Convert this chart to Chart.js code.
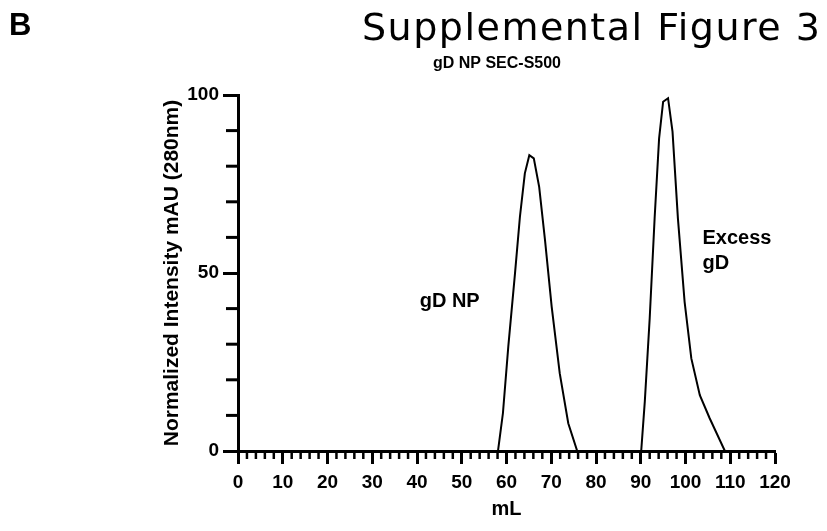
<!DOCTYPE html>
<html>
<head>
<meta charset="utf-8">
<script src="https://cdn.jsdelivr.net/npm/chart.js@4/dist/chart.umd.min.js"></script>
<style>
  html, body { margin: 0; padding: 0; background: #fff; }
  #wrap { position: relative; width: 827px; height: 531px; overflow: hidden; }
  #c { position: absolute; left: 0; top: 0; }
  .lbl { position: absolute; white-space: nowrap; color: #000; line-height: 1; }
  #panel { left: 9px; top: 7px; font: bold 31px "Liberation Sans", Arial, sans-serif; }
  #fig { left: 362px; top: 5px; font: 38px "DejaVu Sans", sans-serif; font-weight: 400; letter-spacing: 1.5px; }
</style>
</head>
<body>
<div id="wrap">
  <canvas id="c" width="827" height="531"></canvas>
  <div class="lbl" id="panel">B</div>
  <div class="lbl" id="fig">Supplemental Figure 3</div>
</div>
<script>
// ---- data ----
const volumeML = [0, 58.1, 59.2, 60.4, 61.9, 63.0, 64.1, 65.1, 66.1, 67.3, 68.6, 70.1, 71.9, 73.8, 75.8,
                  90.1, 90.9, 92.0, 93.1, 94.1, 95.0, 96.1, 97.1, 98.3, 99.8, 101.3, 103.2, 105.4, 108.8, 120];
const intensity = [0, 0, 10.6, 29.3, 49.9, 65.8, 78.0, 83.1, 82.2, 74.2, 59.3, 40.5, 21.8, 7.8, 0,
                   0, 13.8, 37.3, 65.4, 87.8, 98.1, 99.1, 89.7, 65.4, 41.9, 26.0, 15.7, 9.2, 0, 0];
const xMajorTicks = [0, 10, 20, 30, 40, 50, 60, 70, 80, 90, 100, 110, 120];
const yMajorTicks = [0, 50, 100];
const xMinorTicks = [];
for (let v = 0; v <= 120; v += 2) if (v % 10 !== 0) xMinorTicks.push(v);
const yMinorTicks = [10, 20, 30, 40, 60, 70, 80, 90];
const chartTitle = 'gD NP SEC-S500';
const xTitle = 'mL';
const yTitle = 'Normalized Intensity mAU (280nm)';
const annotations = [
  { text: 'gD NP', x: 47.3, y: 42.1, align: 'center' },
  { text: 'Excess', x: 103.8, y: 59.6, align: 'left' },
  { text: 'gD', x: 103.8, y: 52.8, align: 'left' }
];

const FONT = '"Liberation Sans", Arial, sans-serif';

const extras = {
  id: 'extras',
  afterDraw(chart) {
    const { ctx, scales: { x, y } } = chart;
    ctx.save();
    ctx.strokeStyle = '#000';
    ctx.lineCap = 'butt';
    ctx.lineWidth = 2.5;
    const axisY = y.getPixelForValue(0);
    xMinorTicks.forEach(v => {
      const px = x.getPixelForValue(v);
      ctx.beginPath(); ctx.moveTo(px, axisY); ctx.lineTo(px, axisY + 8); ctx.stroke();
    });
    const axisX = x.getPixelForValue(0);
    ctx.lineWidth = 3;
    yMinorTicks.forEach(v => {
      const py = y.getPixelForValue(v);
      ctx.beginPath(); ctx.moveTo(axisX, py); ctx.lineTo(axisX - 12, py); ctx.stroke();
    });
    ctx.fillStyle = '#000';
    ctx.font = 'bold 20px ' + FONT;
    ctx.textBaseline = 'middle';
    annotations.forEach(a => {
      ctx.textAlign = a.align;
      ctx.fillText(a.text, x.getPixelForValue(a.x), y.getPixelForValue(a.y));
    });
    ctx.font = 'bold 16px ' + FONT;
    ctx.textAlign = 'center';
    ctx.fillText(chartTitle, 497, 64);
    ctx.restore();
  }
};

new Chart(document.getElementById('c'), {
  type: 'line',
  data: {
    datasets: [{
      data: volumeML.map((v, i) => ({ x: v, y: intensity[i] })),
      borderColor: '#000',
      borderWidth: 2,
      pointRadius: 0,
      tension: 0,
      fill: false
    }]
  },
  options: {
    responsive: false,
    animation: false,
    devicePixelRatio: 1,
    layout: { padding: { top: 95, right: 52, left: 0, bottom: 0 } },
    plugins: { legend: { display: false }, tooltip: { enabled: false }, title: { display: false } },
    scales: {
      x: {
        type: 'linear', min: 0, max: 120,
        afterBuildTicks: s => { s.ticks = xMajorTicks.map(v => ({ value: v })); },
        afterFit: s => { s.height = 80; },
        ticks: { color: '#000', font: { family: FONT, size: 19, weight: 'bold' }, padding: 7, maxRotation: 0, autoSkip: false },
        grid: { drawOnChartArea: false, drawTicks: true, tickLength: 13, tickWidth: 3, tickColor: '#000' },
        border: { display: true, color: '#000', width: 3 },
        title: { display: true, text: xTitle, color: '#000', font: { family: FONT, size: 20, weight: 'bold' }, padding: { top: 0, bottom: 10 } }
      },
      y: {
        type: 'linear', min: 0, max: 100,
        afterBuildTicks: s => { s.ticks = yMajorTicks.map(v => ({ value: v })); },
        afterFit: s => { s.width = 238; },
        ticks: { color: '#000', font: { family: FONT, size: 19, weight: 'bold' }, padding: 4 },
        grid: { drawOnChartArea: false, drawTicks: true, tickLength: 15, tickWidth: 3, tickColor: '#000' },
        border: { display: true, color: '#000', width: 3 },
        title: { display: true, text: yTitle, color: '#000', font: { family: FONT, size: 21, weight: 'bold' }, padding: { top: 160, bottom: 0 } }
      }
    }
  },
  plugins: [extras]
});
</script>
</body>
</html>
